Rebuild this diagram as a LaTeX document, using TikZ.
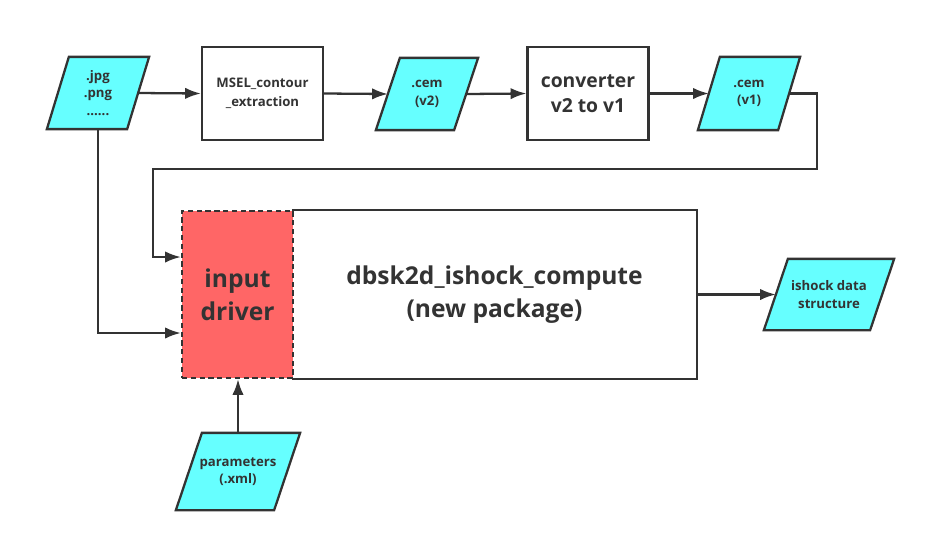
\documentclass[tikz,border=0pt]{standalone}
\usepackage{fontspec}
\setmainfont{Open Sans}
\usepackage{tikz}
\usetikzlibrary{arrows.meta,backgrounds}
\definecolor{ink}{HTML}{333333}
\definecolor{datafill}{HTML}{66FFFF}
\definecolor{drvfill}{HTML}{FF6666}

\begin{document}
\begin{tikzpicture}[x=0.02cm, y=-0.02cm, >={Latex[length=9pt,width=6.5pt]},
		line width=1.3pt, draw=ink,
		box/.style={draw=ink, line width=1.3pt, rectangle, align=center, text=ink, font=\bfseries, inner sep=0pt},
		data/.style={rectangle, align=center, text=ink, font=\bfseries\fontsize{7.5}{10}\selectfont,
			minimum height=1.4cm, inner sep=0pt},
		datashape/.style={draw=ink, line width=1.3pt, fill=datafill, line join=miter},
		link/.style={->, draw=ink, line width=1.3pt}]
		%\draw [help lines] (0,0) grid (926,542);
		\useasboundingbox (0,0) rectangle (926,542);
		%Dati in ingresso
		\node [data, minimum width=1.56cm] (img) at (98,93) {.jpg\\.png\\......};
		\node [data, minimum width=1.92cm, minimum height=1.5cm] (par) at (238,471.5) {parameters\\(.xml)};
		%Catena superiore
		\node [box, minimum width=2.42cm, minimum height=1.86cm, font=\bfseries\fontsize{7.5}{11}\selectfont] (msel) at (262.5,93.5) {MSEL\_contour\\\_extraction};
		\node [data, minimum width=1.52cm] (cemtwo) at (427,94) {.cem\\(v2)};
		\node [box, minimum width=2.42cm, minimum height=1.86cm, font=\bfseries\fontsize{11}{14}\selectfont] (conv) at (588,93.5) {converter\\v2 to v1};
		\node [data, minimum width=1.56cm, minimum height=1.42cm] (cemone) at (749,93.5) {.cem\\(v1)};
		%Blocco principale
		\node [box, draw=none, minimum width=8.06cm, minimum height=3.34cm, font=\bfseries\fontsize{14}{19}\selectfont] (main) at (494.5,294.5) {dbsk2d\_ishock\_compute\\(new package)};
		\draw [ink] (main.north west) -- (main.north east) -- (main.south east) -- (main.south west);
		\node [box, fill=drvfill, dash pattern=on 3pt off 2pt, minimum width=2.22cm, minimum height=3.34cm,
			font=\bfseries\fontsize{14}{19}\selectfont] (drv) at (237.5,294.5) {input\\driver};
		%Uscita
		\node [data, minimum width=2.08cm, minimum height=1.38cm] (out) at (829,294.5) {ishock data\\structure};
		%Parallelogrammi
		\begin{pgfonlayer}{background}
			\foreach \n/\s in {img/22, cemtwo/24, cemone/22, out/24, par/26}
				\draw [datashape] ([xshift=-\s*0.01cm]\n.south west) -- ([xshift=\s*0.01cm]\n.north west)
					-- ([xshift=\s*0.01cm]\n.north east) -- ([xshift=-\s*0.01cm]\n.south east) -- cycle;
		\end{pgfonlayer}
		%Frecce
		\coordinate (cr) at (817,169);
		\coordinate (cl) at (153,169);
		\draw [link] (img.east) -- (msel.west);
		\draw [link] (msel.east) -- (cemtwo.west);
		\draw [link] (cemtwo.east) -- (conv.west);
		\draw [link] (conv.east) -- (cemone.west);
		\draw [link] (cemone.east) -| (cr) -- (cl) |- ([yshift=0.75cm]drv.west);
		\draw [link] (img.south) |- ([yshift=-0.77cm]drv.west);
		\draw [link] (par.north) -- (par.north |- drv.south);
		\draw [link] (main.east) -- (out.west);
	\end{tikzpicture}
\end{document}
